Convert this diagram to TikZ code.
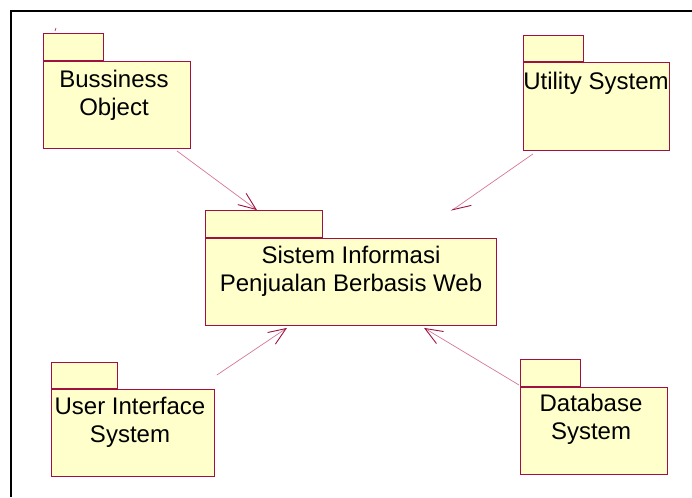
\documentclass[tikz,border=0pt]{standalone}
\usepackage{fontspec}
\setmainfont{Liberation Sans}
\usetikzlibrary{arrows.meta,calc}
\definecolor{pkgfill}{RGB}{255,255,204}
\definecolor{pkgline}{RGB}{160,16,64}
\definecolor{linkline}{RGB}{214,120,150}
\begin{document}
\begin{tikzpicture}[x=1pt,y=-1pt,
  pkgbody/.style={draw=pkgline, fill=pkgfill, line width=0.9pt, inner sep=0pt, anchor=north west},
  pkgtab/.style={draw=pkgline, fill=pkgfill, line width=0.9pt, inner sep=0pt, anchor=south west},
  pkgtext/.style={font=\fontsize{24}{28}\selectfont, align=center, inner sep=0pt, anchor=north},
  dep/.style={draw=linkline, line width=0.7pt,
    -{Straight Barb[length=17.5pt,width=14pt,color=pkgline,line width=0.9pt]}},
  dephalf/.style={draw=linkline, line width=0.7pt,
    -{Straight Barb[length=17.5pt,width=14pt,color=pkgline,line width=0.9pt,left]}},
]
\useasboundingbox (0,0) rectangle (692,497);
\fill[white] (0,0) rectangle (692,497);

% diagram frame
\draw[line width=2pt] (692,11) -- (11,11) -- (11,497);

% packages: body first, then the tab on top of it
\node[pkgbody, minimum width=147pt, minimum height=87pt] (bo) at (43,61) {};
\node[pkgtab, minimum width=60pt, minimum height=27pt] (bo-tab) at (bo.north west) {};
\node[pkgtext] (bo-text) at (114,67.4) {Bussiness\strut\\Object\strut};

\node[pkgbody, minimum width=146pt, minimum height=88pt] (util) at (523,62) {};
\node[pkgtab, minimum width=60pt, minimum height=26pt] (util-tab) at (util.north west) {};
\node[pkgtext] (util-text) at (596,69.4) {Utility System\strut};

\node[pkgbody, minimum width=291pt, minimum height=87pt] (sys) at (205,238) {};
\node[pkgtab, minimum width=117pt, minimum height=27pt] (sys-tab) at (sys.north west) {};
\node[pkgtext] (sys-text) at (351,243.4) {Sistem Informasi\strut\\Penjualan Berbasis Web\strut};

\node[pkgbody, minimum width=163pt, minimum height=87pt] (ui) at (51,389) {};
\node[pkgtab, minimum width=66pt, minimum height=26pt] (ui-tab) at (ui.north west) {};
\node[pkgtext] (ui-text) at (130,394.4) {User Interface\strut\\System\strut};

\node[pkgbody, minimum width=147pt, minimum height=87pt] (db) at (520,387) {};
\node[pkgtab, minimum width=60pt, minimum height=27pt] (db-tab) at (db.north west) {};
\node[pkgtext] (db-text) at (591,391.4) {Database\strut\\System\strut};

% small stray mark above the first package
\draw[pkgline, line width=0.6pt] (55,31) -- (56,28);

% dependencies
\draw[dep] ([xshift=-14pt,yshift=-2pt]bo.south east) -- ([xshift=52pt]sys-tab.north west);
\draw[dephalf] ([xshift=10pt,yshift=-3pt]util.south west) -- ([xshift=246pt,yshift=27pt]sys.north west);
\draw[dep] ([xshift=2pt,yshift=14pt]ui.north east) -- ([xshift=82pt,yshift=-2pt]sys.south west);
\draw[dep] ([xshift=-1pt,yshift=2pt]db.north west) -- ([xshift=219pt,yshift=-2pt]sys.south west);
\end{tikzpicture}
\end{document}
